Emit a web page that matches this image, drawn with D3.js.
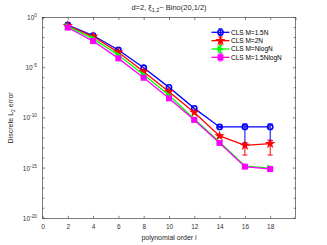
<!DOCTYPE html>
<html>
<head>
<meta charset="utf-8">
<script src="https://cdn.jsdelivr.net/npm/d3@7"></script>
<style>
  body { margin: 0; background: #fff; }
  text { font-family: "Liberation Sans", Arial, sans-serif; fill: #262626; }
</style>
</head>
<body>
<svg id="chart" width="327" height="245"></svg>
<script>
const orders = [2, 4, 6, 8, 10, 12, 14, 16, 18]
const names = ['CLS M=1.5N', 'CLS M=2N', 'CLS M=NlogN', 'CLS M=1.5NlogN']
const colors = ['#0000ff', '#ff0000', '#00ff00', '#ff00ff']
const shapes = ['circle', 'star', 'triangle', 'square']
const errM15N = [1.8e-1, 1.6e-2, 5.8e-4, 1.0e-5, 1.1e-7, 8.9e-10, 1.26e-11, 1.26e-11, 1.26e-11]
const errM2N = [1.5e-1, 1.26e-2, 3.4e-4, 4.0e-6, 4.0e-8, 3.5e-10, 1.6e-12, 1.8e-13, 2.7e-13]
const errMNlogN = [1.3e-1, 7.9e-3, 1.8e-4, 2.0e-6, 1.8e-8, 7.9e-11, 4.0e-13, 1.6e-15, 1.0e-15]
const errM15NlogN = [1.0e-1, 4.5e-3, 8.5e-5, 1.0e-6, 8.9e-9, 6.3e-11, 3.2e-13, 1.4e-15, 8.0e-16]
const sdM15N = [0, 0, 0, 0, 0, 0, 1e-12, 1.23e-11, 1.2e-11]
const sdM2N = [0, 0, 0, 0, 0, 0, 4e-13, 1.6e-13, 2.5e-13]
const sdMNlogN = [0, 0, 0, 0, 0, 0, 0, 1e-16, 1e-16]
const sdM15NlogN = [0, 0, 0, 0, 0, 0, 0, 1e-16, 1e-16]
const xTicks = [0, 2, 4, 6, 8, 10, 12, 14, 16, 18]
const yMajor = [0, -5, -10, -15, -20]

const seriesVals = [errM15N, errM2N, errMNlogN, errM15NlogN]
const seriesSd = [sdM15N, sdM2N, sdMNlogN, sdM15NlogN]

const svg = d3.select('#chart')
const L = 42.5, R = 295.5, T = 17.5, B = 218.3
const x = d3.scaleLinear().domain([0, 20]).range([L, R])
const y = d3.scaleLog().domain([1e-20, 1]).range([B, T])
const axisCol = '#262626'

// box and ticks
svg.append('rect').attr('x', L).attr('y', T).attr('width', R - L).attr('height', B - T)
  .attr('fill', 'none').attr('stroke', axisCol).attr('stroke-width', 0.6)

const xAxB = d3.axisBottom(x).tickValues(xTicks).tickSize(-2.5).tickPadding(6).tickFormat(d3.format('d'))
const gx = svg.append('g').attr('transform', `translate(0,${B})`).call(xAxB)
gx.select('.domain').remove()
gx.selectAll('line').attr('stroke', axisCol).attr('stroke-width', 0.6)
gx.selectAll('text').attr('font-size', 6.5).style('fill', '#333')
const gxt = svg.append('g').attr('transform', `translate(0,${T})`)
  .call(d3.axisTop(x).tickValues(xTicks.concat([20])).tickSize(-2.5).tickFormat(''))
gxt.select('.domain').remove()
gxt.selectAll('line').attr('stroke', axisCol).attr('stroke-width', 0.6)

const decades = d3.range(-20, 1).map(e => Math.pow(10, e))
const tickLen = e => (e % 5 === 0 ? 2.5 : 1.5)
decades.forEach(v => {
  const e = Math.round(Math.log10(v))
  const yy = y(v)
  const len = e % 5 === 0 ? 2.5 : 1.8
  svg.append('line').attr('x1', L).attr('x2', L + len).attr('y1', yy).attr('y2', yy)
    .attr('stroke', axisCol).attr('stroke-width', 0.6)
  svg.append('line').attr('x1', R).attr('x2', R - len).attr('y1', yy).attr('y2', yy)
    .attr('stroke', axisCol).attr('stroke-width', 0.6)
})
yMajor.forEach(e => {
  const t = svg.append('text').attr('x', 37).attr('y', y(Math.pow(10, e)) + 2.5)
    .attr('text-anchor', 'end').attr('font-size', 6.5).style('fill', '#333')
  t.append('tspan').text('10')
  t.append('tspan').attr('dy', -3).attr('font-size', 4.8).text(String(e).replace('-', '-'))
})

// labels
const title = svg.append('text').attr('x', 169).attr('y', 10).attr('text-anchor', 'middle').attr('font-size', 7.5)
title.append('tspan').text('d=2, ξ')
title.append('tspan').attr('dy', 2).attr('font-size', 5.5).text('1,2')
title.append('tspan').attr('dy', -2).text('~ Bino(20,1/2)')

svg.append('text').attr('x', 169).attr('y', 240).attr('text-anchor', 'middle').attr('font-size', 7).text('polynomial order i')
const yl = svg.append('text').attr('transform', `translate(13,${(T + B) / 2}) rotate(-90)`)
  .attr('text-anchor', 'middle').attr('font-size', 7)
yl.append('tspan').text('Discrete L')
yl.append('tspan').attr('dy', 2).attr('font-size', 5).text('2')
yl.append('tspan').attr('dy', -2).text(' error')

// markers
function drawMarker (g, shape, cx, cy, col) {
  if (shape === 'circle') {
    g.append('circle').attr('cx', cx).attr('cy', cy).attr('r', 2.6)
      .attr('fill', 'none').attr('stroke', col).attr('stroke-width', 1.6)
  } else if (shape === 'square') {
    g.append('rect').attr('x', cx - 3).attr('y', cy - 3).attr('width', 6).attr('height', 6).attr('fill', col)
  } else if (shape === 'triangle') {
    g.append('path').attr('d', `M${cx - 3},${cy - 3.5}L${cx + 3.5},${cy}L${cx - 3},${cy + 3.5}Z`).attr('fill', col)
  } else {
    g.append('path').attr('d', d3.symbol(d3.symbolStar, 34)()).attr('transform', `translate(${cx},${cy})`).attr('fill', col)
  }
}

const line = d3.line().x(d => x(d[0])).y(d => y(d[1]))
seriesVals.forEach((vals, si) => {
  const col = colors[si]
  const g = svg.append('g')
  const pts = orders.map((o, i) => [o, vals[i]])
  g.append('path').attr('d', line(pts)).attr('fill', 'none').attr('stroke', col).attr('stroke-width', 1.3)
  orders.forEach((o, i) => {
    const sd = seriesSd[si][i]
    if (sd > 0) {
      const lo = Math.max(vals[i] - sd, 1e-20)
      const hi = vals[i] + sd
      const xx = x(o)
      g.append('line').attr('x1', xx).attr('x2', xx).attr('y1', y(lo)).attr('y2', y(hi)).attr('stroke', col).attr('stroke-width', 1)
      ;[lo, hi].forEach(v => {
        g.append('line').attr('x1', xx - 2.5).attr('x2', xx + 2.5).attr('y1', y(v)).attr('y2', y(v)).attr('stroke', col).attr('stroke-width', 1)
      })
    }
    drawMarker(g, shapes[si], x(o), y(vals[i]), col)
  })
})

// legend
names.forEach((n, i) => {
  const ly = 32.3 + i * 8.35
  const g = svg.append('g')
  g.append('line').attr('x1', 211.5).attr('x2', 229.5).attr('y1', ly).attr('y2', ly).attr('stroke', colors[i]).attr('stroke-width', 1.3)
  g.append('line').attr('x1', 220.5).attr('x2', 220.5).attr('y1', ly - 3.5).attr('y2', ly + 3.5).attr('stroke', colors[i]).attr('stroke-width', 1)
  ;[-3.5, 3.5].forEach(d => g.append('line').attr('x1', 218.5).attr('x2', 222.5).attr('y1', ly + d).attr('y2', ly + d).attr('stroke', colors[i]).attr('stroke-width', 1))
  drawMarker(g, shapes[i], 220.5, ly, colors[i])
  g.append('text').attr('x', 231).attr('y', ly + 2.4).attr('font-size', 6.5).style('fill', '#000').text(n)
})
</script>
</body>
</html>
